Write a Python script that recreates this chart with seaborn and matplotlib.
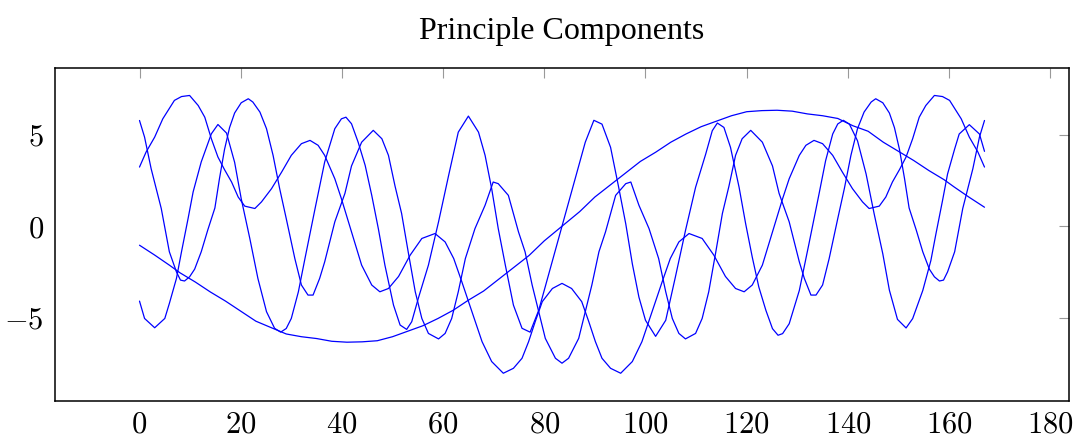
import matplotlib
matplotlib.use("Agg")
import matplotlib.pyplot as plt
from matplotlib.ticker import FuncFormatter
import seaborn as sns
import pandas as pd

# ── Données (4 composantes) ───────────────────────────────────
a_x = [0, 1, 2.3, 4.3, 5.9, 7.3, 8.1, 8.9, 9.9, 10.9, 12.2, 13.5, 14.9, 15.8, 16.8, 17.8,
       18.8, 20.1, 21.5, 22.4, 23.8, 25.1, 26.4, 27.7, 29.0, 30.7, 32.0, 33.3, 34.3, 35.6,
       36.6, 38.6, 40.6, 41.9, 43.9, 46.2, 47.9, 49.2, 50.5, 51.8, 53.1, 54.5, 55.8, 57.1,
       59.1, 60.4, 61.7, 63.0, 64.4, 66.3, 68.3, 69.9, 70.9, 72.9, 74.9, 76.2, 77.6, 78.9,
       80.2, 82.2, 83.5,
       84.8, 86.8, 88.1, 89.4, 90.8, 92.1, 94.1, 96.1, 97.1, 98.7, 100.7, 102.6, 104.0,
       105.3, 106.6, 107.9, 109.9, 111.2, 112.5, 113.9, 115.2, 116.5, 117.8, 119.1, 120.8,
       123.1, 125.1, 126.4, 128.4, 130.4, 131.4, 132.7, 133.7, 135.0, 136.3, 138.0, 139.3,
       140.6, 141.9, 143.2, 144.6, 145.5, 146.9, 148.2, 149.2, 150.2, 151.2, 152.1, 153.5,
       154.8, 156.1, 157.1, 158.1, 158.9, 159.7, 161.1, 162.7, 164.7, 166, 167]
a_y = [5.79, 4.88, 3.15, 0.97, -1.4, -2.5, -2.95, -3.0, -2.77, -2.35, -1.4, -0.2, 1.0, 2.6,
       4.2, 5.4, 6.2, 6.76, 6.98, 6.8, 6.25, 5.34, 3.88, 2.06, 0.42, -1.77, -3.22, -3.77,
       -3.77, -2.86, -1.95, 0.24, 1.8, 3.3, 4.6, 5.25, 4.79, 3.88, 2.2, 0.7, -1.4, -3.59,
       -5.05, -5.87, -6.17, -5.87, -5.05, -3.59, -1.77, -0.13, 1.15, 2.42, 2.33, 1.69,
       -0.31, -1.4, -3.22, -4.68, -6.14, -7.23, -7.5,
       -7.23, -6.14, -4.68, -3.22, -1.4, -0.31, 1.69, 2.33, 2.42, 1.15, -0.13, -1.77, -3.59,
       -5.05, -5.87, -6.17, -5.87, -5.05, -3.59, -1.4, 0.7, 2.2, 3.88, 4.79, 5.25, 4.6, 3.3,
       1.8, 0.24, -1.95, -2.86, -3.77, -3.77, -3.22, -1.77, 0.42, 2.06, 3.88, 5.34, 6.25,
       6.8, 6.98, 6.76, 6.2, 5.4, 4.2, 2.6, 1.0, -0.2, -1.4, -2.35, -2.77, -3.0, -2.95,
       -2.5, -1.4, 0.97, 3.15, 4.88, 5.79]

b_x = [0, 1.3, 3.0, 4.6, 6.9, 8.3, 9.9, 11.6, 12.9, 14.2, 15.5, 16.8, 18.2, 19.5, 20.8,
       22.8, 24.1, 26.1, 28.1, 30.0, 32.0, 33.7, 35.3, 36.6, 38.6, 39.9, 41.9, 43.9, 45.9,
       47.5, 49.2, 51.2, 53.5, 55.8, 58.4, 60.4, 62.1, 63.7, 65.7, 67.7, 69.6, 71.9, 73.9,
       75.6, 76.9, 78.2, 79.6, 81.6, 83.5,
       85.4, 87.4, 88.8, 90.1, 91.4, 93.1, 95.1, 97.4, 99.3, 101.3, 103.3, 104.9, 106.6,
       108.6, 111.2, 113.5, 115.8, 117.8, 119.5, 121.1, 123.1, 125.1, 127.1, 128.4, 130.4,
       131.7, 133.3, 135.0, 137.0, 138.9, 140.9, 142.9, 144.2, 146.2, 147.5, 148.8, 150.2,
       151.5, 152.8, 154.1, 155.4, 157.1, 158.7, 160.1, 162.4, 164.0, 165.7, 167]
b_y = [3.24, 4.06, 4.88, 5.88, 6.89, 7.1, 7.16, 6.61, 5.97, 4.79, 3.79, 3.1, 2.42, 1.6,
       1.1, 0.97, 1.33, 2.06, 2.97, 3.88, 4.52, 4.7, 4.43, 3.88, 2.6, 1.51, -0.31, -2.13,
       -3.22, -3.59, -3.41, -2.75, -1.58, -0.67, -0.4, -0.86, -1.77, -3.04, -4.68, -6.32,
       -7.41, -8.05, -7.78, -7.23, -6.32, -5.23, -4.13, -3.41, -3.13,
       -3.41, -4.13, -5.23, -6.32, -7.23, -7.78, -8.05, -7.41, -6.32, -4.68, -3.04, -1.77,
       -0.86, -0.4, -0.67, -1.58, -2.75, -3.41, -3.59, -3.22, -2.13, -0.31, 1.51, 2.6, 3.88,
       4.43, 4.7, 4.52, 3.88, 2.97, 2.06, 1.33, 0.97, 1.1, 1.6, 2.42, 3.1, 3.79, 4.79, 5.97,
       6.61, 7.16, 7.1, 6.89, 5.88, 4.88, 4.06, 3.24]

c_x = [0, 1, 3, 5, 5.9, 7.3, 8.3, 9.6, 10.6, 12.2, 14.2, 15.5, 17.2, 18.8, 20.1, 21.8,
       23.4, 25.1, 26.7, 27.9, 29.0, 30.0, 31.4, 32.7, 34.7, 36.6, 38.6, 39.9, 40.8, 41.9,
       43.2, 44.6, 45.9, 47.2, 48.5, 50.2, 51.5, 52.8, 53.8, 55.1, 57.1, 59.1, 61.1, 63.0,
       65.0, 67.0, 68.3, 69.6, 70.9, 72.3, 73.9, 75.6, 77.2, 78.9, 80.9, 83.5,
       86.1, 88.1, 89.8, 91.4, 93.1, 94.7, 96.1, 97.4, 98.7, 100.0, 102.0, 104.0, 105.9,
       107.9, 109.9, 111.9, 113.2, 114.2, 115.5, 116.8, 118.5, 119.8, 121.1, 122.4, 123.8,
       125.1, 126.2, 127.1, 128.4, 130.4, 132.3, 134.3, 135.6, 137.0, 138.0, 139.1, 140.3,
       141.9, 143.6, 145.2, 146.9, 148.2, 149.8, 151.5, 152.8, 154.8, 156.4, 157.4, 158.7,
       159.7, 161.1, 162, 164, 166, 167]
c_y = [-4.1, -5.05, -5.56, -5.05, -4.23, -2.86, -1.4, 0.42, 1.88, 3.52, 5.06, 5.57, 5.1,
       3.5, 1.51, -0.67, -2.86, -4.68, -5.59, -5.8, -5.6, -5.05, -3.59, -1.77, 0.97, 3.52,
       5.34, 5.88, 5.97, 5.61, 4.61, 3.33, 1.69, -0.13, -2.13, -4.32, -5.41, -5.65, -5.23,
       -3.95, -2.13, 0.24, 2.79, 5.15, 6.03, 5.15, 3.88, 2.06, -0.13, -2.13, -4.32, -5.59,
       -5.8, -4.6, -2.6, 0.0,
       2.6, 4.6, 5.8, 5.59, 4.32, 2.13, 0.13, -2.06, -3.88, -5.15, -6.03, -5.15, -2.79,
       -0.24, 2.13, 3.95, 5.23, 5.65, 5.41, 4.32, 2.13, 0.13, -1.69, -3.33, -4.61, -5.61,
       -5.97, -5.88, -5.34, -3.52, -0.97, 1.77, 3.59, 5.05, 5.6, 5.8, 5.59, 4.68, 2.86,
       0.67, -1.51, -3.5, -5.1, -5.57, -5.06, -3.52, -1.88, -0.42, 1.4, 2.86, 4.23, 5.05,
       5.56, 5.05, 4.1]

s_x = [0, 3, 6, 8, 11, 14, 17, 20, 23, 26, 29, 32, 35, 38, 41, 44, 47, 50, 53, 56, 59,
       62, 65, 68, 71, 74, 77, 80, 83.5, 87, 90, 93, 96, 99, 102, 105, 108, 111, 114, 117,
       120, 123, 126, 129, 132, 135, 138, 141, 144, 147, 150, 153, 156, 159, 161, 164, 167]
s_y = [-1.04, -1.58, -2.15, -2.55, -3.05, -3.6, -4.1, -4.65, -5.2, -5.55, -5.9, -6.05,
       -6.15, -6.3, -6.35, -6.33, -6.27, -6.05, -5.75, -5.45, -5.05, -4.6, -4.05, -3.55,
       -2.9, -2.25, -1.6, -0.8, 0.0, 0.8, 1.6, 2.25, 2.9, 3.55, 4.05, 4.6, 5.05, 5.45,
       5.75, 6.05, 6.27, 6.33, 6.35, 6.3, 6.15, 6.05, 5.9, 5.5, 5.2, 4.6, 4.1, 3.6, 3.05,
       2.55, 2.15, 1.58, 1.04]

x_ticks = [0, 20, 40, 60, 80, 100, 120, 140, 160, 180]
y_ticks = [-5, 0, 5]
title = "Principle Components"

# ── Style ─────────────────────────────────────────────────────
sns.set_style("white")
plt.rcParams["mathtext.fontset"] = "cm"
plt.rcParams["font.family"] = ["Liberation Serif", "DejaVu Serif"]

W, H = 1077, 441
fig = plt.figure(figsize=(W / 100, H / 100), dpi=100)
ax = fig.add_axes([55 / W, 1 - 401 / H, (1069 - 55) / W, (401 - 67.7) / H])

series = [(a_x, a_y), (b_x, b_y), (c_x, c_y), (s_x, s_y)]
for xs, ys in series:
    df = pd.DataFrame({"x": xs, "y": ys})
    sns.lineplot(data=df, x="x", y="y", color="#0000ff", linewidth=0.9,
                 estimator=None, sort=False, ax=ax)

ax.set_xlim(-16.7, 183.7)
ax.set_ylim(-9.57, 8.68)
ax.set_xticks(x_ticks)
ax.set_yticks(y_ticks)
fmt = FuncFormatter(lambda v, p: f"${v:g}$")
ax.xaxis.set_major_formatter(fmt)
ax.yaxis.set_major_formatter(fmt)
ax.tick_params(direction="in", length=7, width=0.8, color="0.6",
               top=True, right=True, labelsize=22, labelcolor="black")
ax.tick_params(axis="x", pad=7)
ax.tick_params(axis="y", pad=8)
ax.set_xlabel("")
ax.set_ylabel("")
for sp in ax.spines.values():
    sp.set_visible(True)
    sp.set_color("black")
    sp.set_linewidth(1.1)

ax.set_title(title, fontsize=23, pad=21, color="black")

fig.savefig("out.png", dpi=100)
plt.close(fig)
